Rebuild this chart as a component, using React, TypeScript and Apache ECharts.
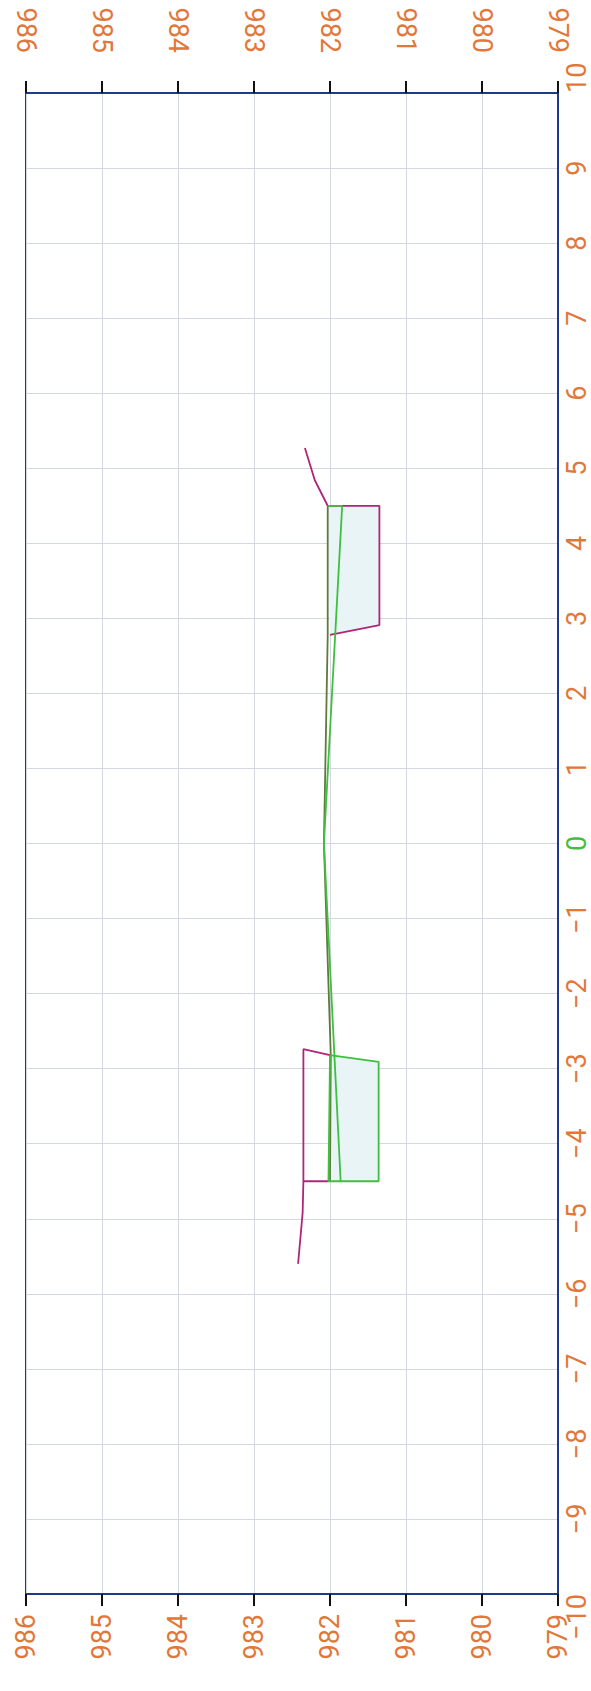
import React, { useEffect, useRef } from "react";
import * as echarts from "echarts";

// Elevation axis (horizontal, reversed) and offset axis (vertical)
const elevMin = 979;
const elevMax = 986;
const offsetMin = -10;
const offsetMax = 10;

// [elevation, offset] pairs
const designLine = [
  [981.86, -4.5],
  [982.08, 0],
  [981.84, 4.5],
  [982.03, 4.5],
];
const groundLine = [
  [982.0, -4.5],
  [981.99, -2.82],
  [982.08, 0],
  [982.03, 2.78],
  [982.03, 4.5],
];
const rightSlope = [
  [982.33, 5.27],
  [982.2, 4.84],
  [982.03, 4.5],
  [981.35, 4.5],
  [981.35, 2.91],
  [982.0, 2.78],
];
const leftSlope = [
  [982.0, -2.82],
  [982.35, -2.74],
  [982.35, -4.5],
  [982.02, -4.5],
];
const leftSlopeTail = [
  [982.35, -4.5],
  [982.36, -4.92],
  [982.42, -5.6],
];
const leftBox = [
  [982.0, -2.82],
  [981.36, -2.91],
  [981.36, -4.5],
  [982.02, -4.5],
  [982.0, -2.82],
];
const rightFill = [
  [982.03, 4.5],
  [981.35, 4.5],
  [981.35, 2.91],
  [982.0, 2.78],
];

const ORANGE = "#e2773a";
const GREEN = "#3fbf3f";
const MAGENTA = "#b0257a";
const OLIVE = "#5e7a3c";
const FRAME = "#1e3a8a";
const GRID = "#d3d7df";
const FILL = "#e8f4f6";
const FONT = "Roboto, 'Liberation Sans', sans-serif";

const fillSeries = (poly: number[][]) => ({
  type: "custom",
  xAxisIndex: 0,
  yAxisIndex: 0,
  silent: true,
  data: [0],
  renderItem: (_params: any, api: any) => ({
    type: "polygon",
    shape: { points: poly.map((p) => api.coord(p)) },
    style: { fill: FILL, stroke: "none" },
  }),
  z: 1,
});

const lineSeries = (data: number[][], color: string, width = 1.8) => ({
  type: "line",
  xAxisIndex: 0,
  yAxisIndex: 0,
  data,
  symbol: "none",
  lineStyle: { color, width },
  z: 3,
});

export default function App() {
  const ref = useRef<HTMLDivElement>(null);
  useEffect(() => {
    if (!ref.current) return;
    const chart = echarts.init(ref.current, undefined, { renderer: "svg" });
    const xLabel = (margin: number) => ({
      rotate: 90,
      margin,
      color: ORANGE,
      fontSize: 27,
      fontWeight: 400,
      fontFamily: FONT,
    });
    chart.setOption({
      animation: false,
      backgroundColor: "#ffffff",
      grid: {
        left: 26,
        right: 33,
        top: 93,
        bottom: 97,
        show: true,
        borderColor: FRAME,
        borderWidth: 2,
        backgroundColor: "transparent",
      },
      xAxis: [
        {
          type: "value",
          position: "top",
          min: elevMin,
          max: elevMax,
          interval: 1,
          inverse: true,
          axisLine: { show: true, onZero: false, lineStyle: { color: FRAME, width: 2 } },
          axisTick: { show: true, length: 12, lineStyle: { color: "#111", width: 2 } },
          axisLabel: xLabel(40),
          splitLine: { show: true, lineStyle: { color: GRID, width: 1 } },
        },
        {
          type: "value",
          position: "bottom",
          min: elevMin,
          max: elevMax,
          interval: 1,
          inverse: true,
          axisLine: { show: true, onZero: false, lineStyle: { color: FRAME, width: 2 } },
          axisTick: { show: true, length: 12, lineStyle: { color: "#111", width: 2 } },
          axisLabel: xLabel(20),
          splitLine: { show: false },
        },
      ],
      yAxis: [
        {
          type: "value",
          position: "right",
          min: offsetMin,
          max: offsetMax,
          interval: 1,
          axisLine: { show: true, onZero: false, lineStyle: { color: FRAME, width: 2 } },
          axisTick: { show: false },
          axisLabel: {
            rotate: 90,
            margin: 5,
            fontSize: 27,
            fontWeight: 400,
            fontFamily: FONT,
            alignMinLabel: "right",
            alignMaxLabel: "left",
            formatter: (v: number) => (v < 0 ? "\u2212" + Math.abs(v) : String(v)),
            color: (v: any) => (Number(v) === 0 ? GREEN : ORANGE),
          },
          splitLine: { show: true, lineStyle: { color: GRID, width: 1 } },
        },
      ],
      series: [
        fillSeries(rightFill),
        fillSeries(leftBox),
        lineSeries(rightSlope, MAGENTA),
        lineSeries(leftSlope, MAGENTA),
        lineSeries(leftSlopeTail, MAGENTA),
        lineSeries(groundLine, OLIVE),
        lineSeries(leftBox, GREEN),
        lineSeries(designLine, GREEN),
      ],
    });
    return () => chart.dispose();
  }, []);
  return (
    <div
      ref={ref}
      style={{ position: "absolute", left: 0, top: 0, width: 591, height: 1691 }}
    />
  );
}
